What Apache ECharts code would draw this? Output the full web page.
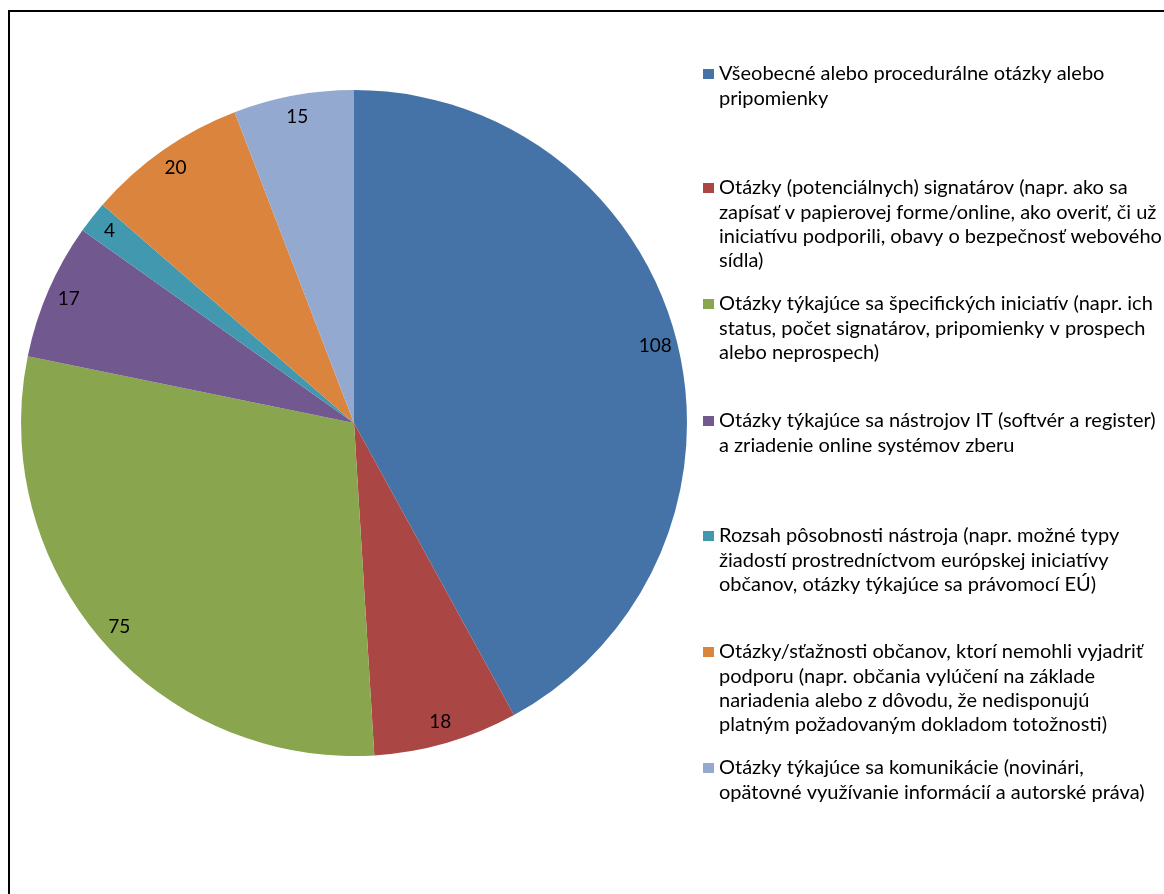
<!DOCTYPE html>
<html>
<head>
<meta charset="utf-8">
<script src="https://cdn.jsdelivr.net/npm/echarts@6/dist/echarts.min.js"></script>
<style>
html,body{margin:0;padding:0;background:#fff;}
#chart{width:1164px;height:894px;}
</style>
</head>
<body>
<div id="chart"></div>
<script>
const categories = [
  'Všeobecné alebo procedurálne otázky alebo pripomienky',
  'Otázky (potenciálnych) signatárov (napr. ako sa zapísať v papierovej forme/online, ako overiť, či už iniciatívu podporili, obavy o bezpečnosť webového sídla)',
  'Otázky týkajúce sa špecifických iniciatív (napr. ich status, počet signatárov, pripomienky v prospech alebo neprospech)',
  'Otázky týkajúce sa nástrojov IT (softvér a register) a zriadenie online systémov zberu',
  'Rozsah pôsobnosti nástroja (napr. možné typy žiadostí prostredníctvom európskej iniciatívy občanov, otázky týkajúce sa právomocí EÚ)',
  'Otázky/sťažnosti občanov, ktorí nemohli vyjadriť podporu (napr. občania vylúčení na základe nariadenia alebo z dôvodu, že nedisponujú platným požadovaným dokladom totožnosti)',
  'Otázky týkajúce sa komunikácie (novinári, opätovné využívanie informácií a autorské práva)'
];
const values = [108, 18, 75, 17, 4, 20, 15];
const legendLines = [
  ['Všeobecné alebo procedurálne otázky alebo', 'pripomienky'],
  ['Otázky (potenciálnych) signatárov (napr. ako sa', 'zapísať v papierovej forme/online, ako overiť, či už', 'iniciatívu podporili, obavy o bezpečnosť webového', 'sídla)'],
  ['Otázky týkajúce sa špecifických iniciatív (napr. ich', 'status, počet signatárov, pripomienky v prospech', 'alebo neprospech)'],
  ['Otázky týkajúce sa nástrojov IT (softvér a register)', 'a zriadenie online systémov zberu'],
  ['Rozsah pôsobnosti nástroja (napr. možné typy', 'žiadostí prostredníctvom európskej iniciatívy', 'občanov, otázky týkajúce sa právomocí EÚ)'],
  ['Otázky/sťažnosti občanov, ktorí nemohli vyjadriť', 'podporu (napr. občania vylúčení na základe', 'nariadenia alebo z dôvodu, že nedisponujú', 'platným požadovaným dokladom totožnosti)'],
  ['Otázky týkajúce sa komunikácie (novinári,', 'opätovné využívanie informácií a autorské práva)']
];
const colors = ['#4673A7', '#AA4644', '#89A54E', '#71588F', '#4198AF', '#DB843D', '#93A9CF'];

const FONT = 'Lato';
const FS = 20;
const LH = 24.3;
const legendCenters = [74, 188, 304, 421, 536, 652, 768];

const chart = echarts.init(document.getElementById('chart'));
const legends = categories.map((name, i) => {
  const n = legendLines[i].length;
  // blank leading lines keep the marker level with the first text line
  const txt = new Array(n - 1).fill(' ').concat(legendLines[i]).join('\n');
  return {
    data: [name],
    orient: 'vertical',
    left: 703,
    top: legendCenters[i] - (2 * n - 1) * LH / 2,
    padding: 0,
    itemWidth: 11,
    itemHeight: 10,
    itemGap: 0,
    icon: 'rect',
    selectedMode: false,
    formatter: () => txt,
    textStyle: { fontFamily: FONT, fontSize: FS, color: '#000', lineHeight: LH }
  };
});

const pieData = categories.map((name, i) => ({ name, value: values[i], itemStyle: { color: colors[i] } }));
const labelData = categories.map((name, i) => ({ name, value: values[i] }));

chart.setOption({
  animation: false,
  color: colors,
  legend: legends,
  graphic: [{
    type: 'rect', shape: { x: 9, y: 11, width: 1170, height: 900 },
    style: { fill: 'none', stroke: '#000', lineWidth: 2 }, silent: true, z: 100
  }],
  series: [
    {
      type: 'pie', center: [354, 423], radius: [0, 333], startAngle: 90, clockwise: true,
      data: pieData, label: { show: false }, labelLine: { show: false },
      itemStyle: { borderWidth: 0 }, silent: true
    },
    {
      type: 'pie', center: [354, 423], radius: [283, 333], startAngle: 90, clockwise: true,
      data: labelData, silent: true,
      itemStyle: { color: 'rgba(0,0,0,0)', borderWidth: 0 },
      label: { show: true, position: 'inside', formatter: '{c}', fontFamily: FONT, fontSize: 19, color: '#000' },
      labelLine: { show: false }
    }
  ]
});
</script>
</body>
</html>
